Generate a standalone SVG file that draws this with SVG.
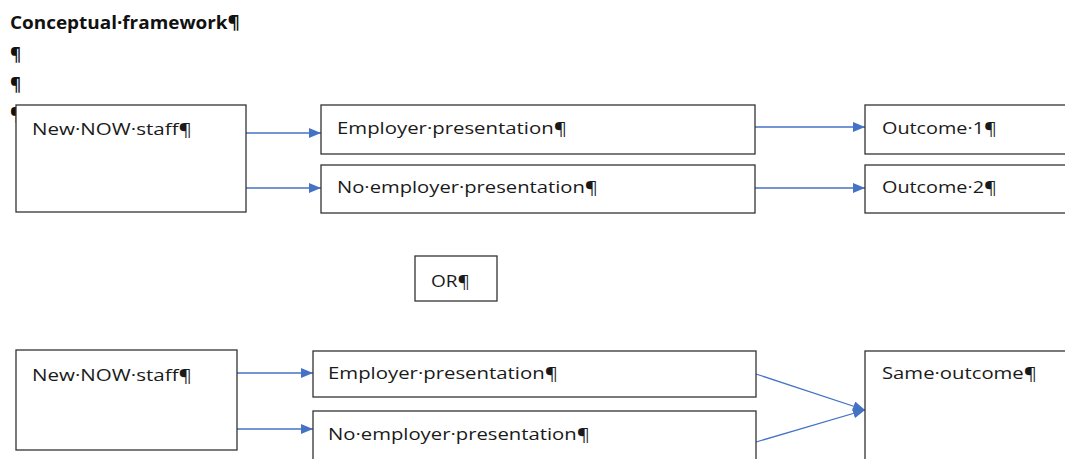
<svg xmlns="http://www.w3.org/2000/svg" width="1065" height="459" viewBox="0 0 1065 459">
<defs>
<style>
.t{font-family:"Open Sans","Liberation Sans",sans-serif;font-size:16.5px;fill:#1a1a1a}
.b{fill:#fff;stroke:#333;stroke-width:1.3}
.c{stroke:#4472C4;stroke-width:1.3;fill:none}
.h{font-family:"Open Sans","Liberation Sans",sans-serif;font-size:17px;font-weight:bold;fill:#111}
</style>
<marker id="ah" markerWidth="12" markerHeight="10" refX="12" refY="5" orient="auto" markerUnits="userSpaceOnUse">
<path d="M0,0 L12,5 L0,10 z" fill="#4472C4"/>
</marker>
</defs>
<rect width="1065" height="459" fill="#fff"/>
<g id="title">
<text class="h" x="10" y="29" textLength="230" lengthAdjust="spacingAndGlyphs">Conceptual·framework¶</text>
<text class="h" x="10" y="61">¶</text>
<text class="h" x="10" y="91">¶</text>
<text class="h" x="10" y="121">¶</text>
</g>
<g id="connectors">
<line class="c" x1="246" y1="133" x2="321" y2="133" marker-end="url(#ah)"/>
<line class="c" x1="236" y1="188" x2="321" y2="188" marker-end="url(#ah)"/>
<line class="c" x1="755" y1="127" x2="865" y2="127" marker-end="url(#ah)"/>
<line class="c" x1="755" y1="188" x2="865" y2="188" marker-end="url(#ah)"/>
<line class="c" x1="237" y1="373" x2="313" y2="373" marker-end="url(#ah)"/>
<line class="c" x1="237" y1="429" x2="313" y2="429" marker-end="url(#ah)"/>
<line class="c" x1="756" y1="374" x2="865" y2="410" marker-end="url(#ah)"/>
<line class="c" x1="756" y1="442" x2="865" y2="410" marker-end="url(#ah)"/>
</g>
<g id="n1">
<rect class="b" x="16" y="105" width="230" height="107"/>
<text class="t" x="32" y="135" textLength="160" lengthAdjust="spacingAndGlyphs">New·NOW·staff¶</text>
</g>
<g id="n2">
<rect class="b" x="321" y="105" width="434" height="49"/>
<text class="t" x="337" y="134" textLength="230" lengthAdjust="spacingAndGlyphs">Employer·presentation¶</text>
</g>
<g id="n3">
<rect class="b" x="321" y="165" width="434" height="48"/>
<text class="t" x="337" y="193" textLength="261" lengthAdjust="spacingAndGlyphs">No·employer·presentation¶</text>
</g>
<g id="n4">
<rect class="b" x="865" y="105" width="220" height="49"/>
<text class="t" x="882" y="134" textLength="115" lengthAdjust="spacingAndGlyphs">Outcome·1¶</text>
</g>
<g id="n5">
<rect class="b" x="865" y="165" width="220" height="48"/>
<text class="t" x="882" y="193" textLength="115" lengthAdjust="spacingAndGlyphs">Outcome·2¶</text>
</g>
<g id="or">
<rect class="b" x="415" y="256" width="82" height="45"/>
<text class="t" x="431" y="287" textLength="39" lengthAdjust="spacingAndGlyphs">OR¶</text>
</g>
<g id="n6">
<rect class="b" x="16" y="350" width="221" height="100"/>
<text class="t" x="32" y="381" textLength="160" lengthAdjust="spacingAndGlyphs">New·NOW·staff¶</text>
</g>
<g id="n7">
<rect class="b" x="313" y="351" width="443" height="46"/>
<text class="t" x="328" y="379" textLength="230" lengthAdjust="spacingAndGlyphs">Employer·presentation¶</text>
</g>
<g id="n8">
<rect class="b" x="313" y="411" width="443" height="60"/>
<text class="t" x="328" y="440" textLength="262" lengthAdjust="spacingAndGlyphs">No·employer·presentation¶</text>
</g>
<g id="n9">
<rect class="b" x="865" y="351" width="220" height="120"/>
<text class="t" x="882" y="379" textLength="155" lengthAdjust="spacingAndGlyphs">Same·outcome¶</text>
</g>
</svg>
